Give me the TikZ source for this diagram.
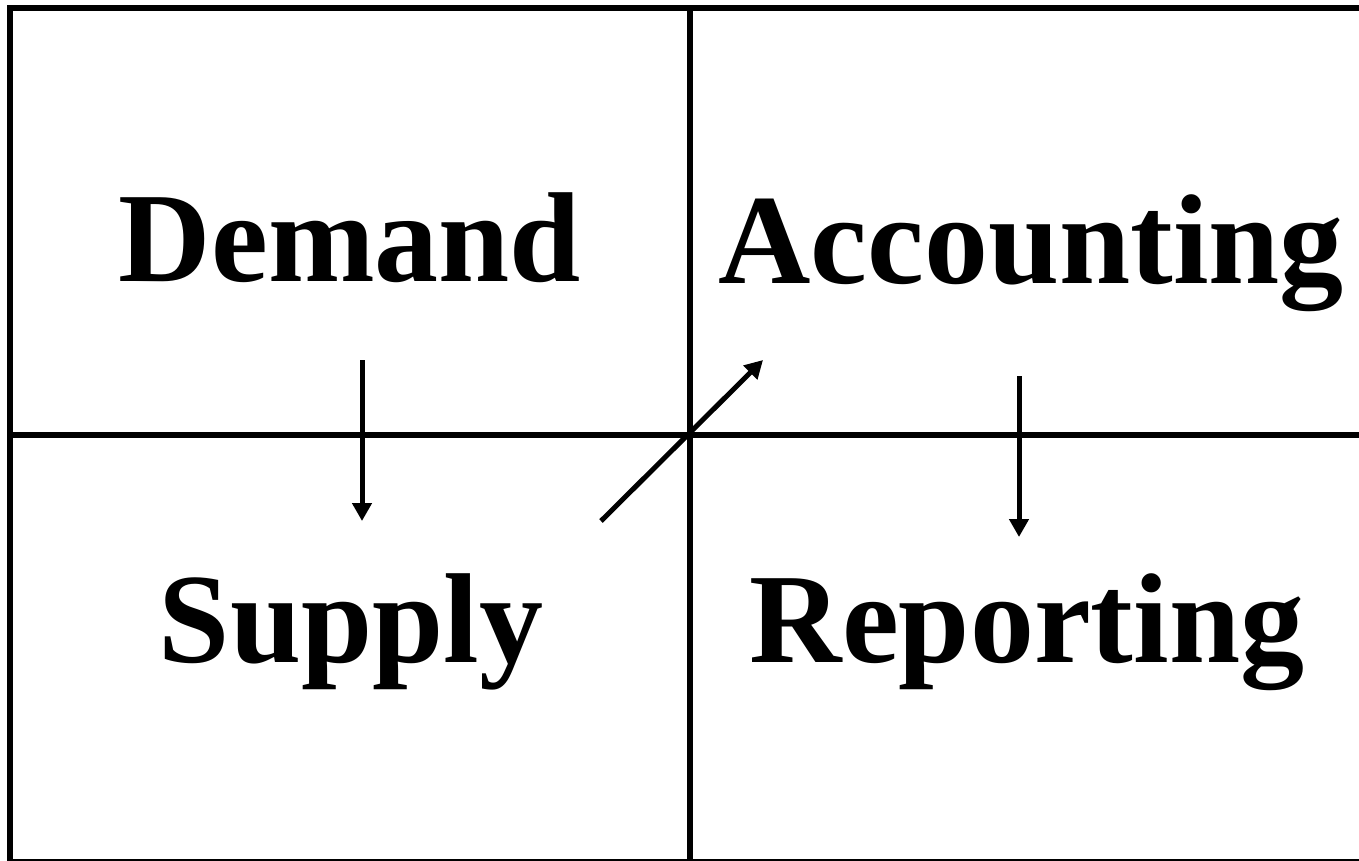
\documentclass[tikz,border=0pt]{standalone}
\usepackage{fontspec}
\setmainfont{Liberation Serif}
\usetikzlibrary{arrows.meta}
\tikzset{
  frameline/.style={line width=6pt},
  gridline/.style={line width=5.5pt},
  flowarrow/.style={line width=5pt, -{Triangle[length=18pt,width=19pt]}},
  word/.style={anchor=base, inner sep=0pt, font=\fontsize{128}{150}\selectfont\bfseries}
}
\begin{document}
\begin{tikzpicture}[x=1pt,y=-1pt]
\useasboundingbox (0,0) rectangle (1359,860);
\clip (0,0) rectangle (1359,860);
\fill[white] (0,0) rectangle (1359,860);
\draw[frameline] (10,8) rectangle (1364,862);
\draw[gridline] (10,435) -- (1364,435);
\draw[gridline] (690,8) -- (690,862);
\node[word] (demand) at (350,281) {Demand};
\node[word] (accounting) at (1031,283) {Accounting};
\node[word] (supply) at (351,662) {Supply};
\node[word] (reporting) at (1027,662) {Reporting};
\coordinate (a1s) at (362,360);
\coordinate (a1e) at (362,521);
\coordinate (a2s) at (601,521);
\coordinate (a2e) at (763,360);
\coordinate (a3s) at (1019,376);
\coordinate (a3e) at (1019,537);
\draw[flowarrow] (a1s) -- (a1e);
\draw[flowarrow] (a2s) -- (a2e);
\draw[flowarrow] (a3s) -- (a3e);
\end{tikzpicture}
\end{document}
